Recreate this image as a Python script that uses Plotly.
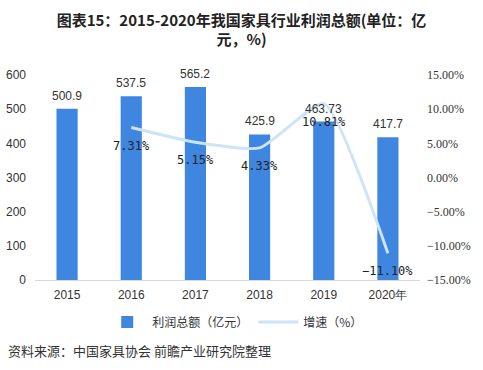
import plotly.graph_objects as go

categories = ["2015", "2016", "2017", "2018", "2019", "2020年"]
profit = [500.9, 537.5, 565.2, 425.9, 463.73, 417.7]
growth_cats = ["2016", "2017", "2018", "2019", "2020年"]
growth = [7.31, 5.15, 4.33, 10.81, -11.10]
growth_labels = ["7.31%", "5.15%", "4.33%", "10.81%", "−11.10%"]

BAR = "#3f86e0"
LINE = "#cde3f8"
CJK = "Noto Sans CJK SC"

fig = go.Figure()
fig.add_trace(go.Bar(
    x=categories, y=profit, name="利润总额（亿元）",
    marker=dict(color=BAR, line=dict(width=0)), width=0.33,
    yaxis="y", hoverinfo="skip"))
fig.add_trace(go.Scatter(
    x=growth_cats, y=growth, name="增速（%）", mode="lines",
    line=dict(color=LINE, width=3, shape="spline", smoothing=0.5),
    yaxis="y2", hoverinfo="skip"))

annotations = []
for c, v in zip(categories, profit):
    annotations.append(dict(x=categories.index(c), y=v, xref="x", yref="y", text=f"{v:g}",
                            showarrow=False, yshift=13,
                            font=dict(family="Liberation Sans", size=12, color="#333")))
for c, v, t in zip(growth_cats, growth, growth_labels):
    annotations.append(dict(x=categories.index(c), y=v, xref="x", yref="y2", text=t,
                            showarrow=False, yshift=-18,
                            font=dict(family="DejaVu Sans Mono", size=12, color="#222")))
annotations.append(dict(x=-29/385, y=-70/205, xref="paper", yref="paper",
                        text="资料来源：中国家具协会 前瞻产业研究院整理",
                        showarrow=False, xanchor="left", yanchor="middle",
                        font=dict(family=CJK, size=13, color="#333")))

fig.update_layout(
    width=483, height=370,
    margin=dict(l=35, r=63, t=75, b=90),
    paper_bgcolor="white", plot_bgcolor="white",
    title=dict(text="<b>图表15：2015-2020年我国家具行业利润总额(单位：亿<br>元，%)</b>",
               x=0.5, xanchor="center", y=0.93, yanchor="middle",
               font=dict(family=CJK, size=15, color="#222")),
    showlegend=True,
    legend=dict(orientation="h", x=0.52, xanchor="center", y=-0.205, yanchor="middle",
                font=dict(family=CJK, size=12, color="#333"), itemwidth=40,
                traceorder="normal"),
    xaxis=dict(type="category", categoryorder="array", categoryarray=categories,
               range=[-0.5, len(categories) - 0.5], automargin=False,
               showline=True, linecolor="#d9d9d9", linewidth=1, ticks="",
               ticklabelstandoff=4,
               tickfont=dict(family="Liberation Sans", size=12, color="#333"),
               showgrid=False),
    yaxis=dict(range=[0, 600], dtick=100, showgrid=False, zeroline=False,
               ticklabelstandoff=8, automargin=False,
               tickfont=dict(family="Liberation Sans", size=12, color="#333")),
    yaxis2=dict(range=[-15, 15], dtick=5, overlaying="y", side="right",
                showgrid=False, zeroline=False, tickformat=".2f", ticksuffix="%",
                ticklabelstandoff=6, automargin=False,
                tickfont=dict(family="Liberation Serif", size=12, color="#333")),
    annotations=annotations,
)

fig.write_html("out.html", config={"displayModeBar": False},
               post_script="document.body.style.margin='0';document.body.style.overflow='hidden';")
